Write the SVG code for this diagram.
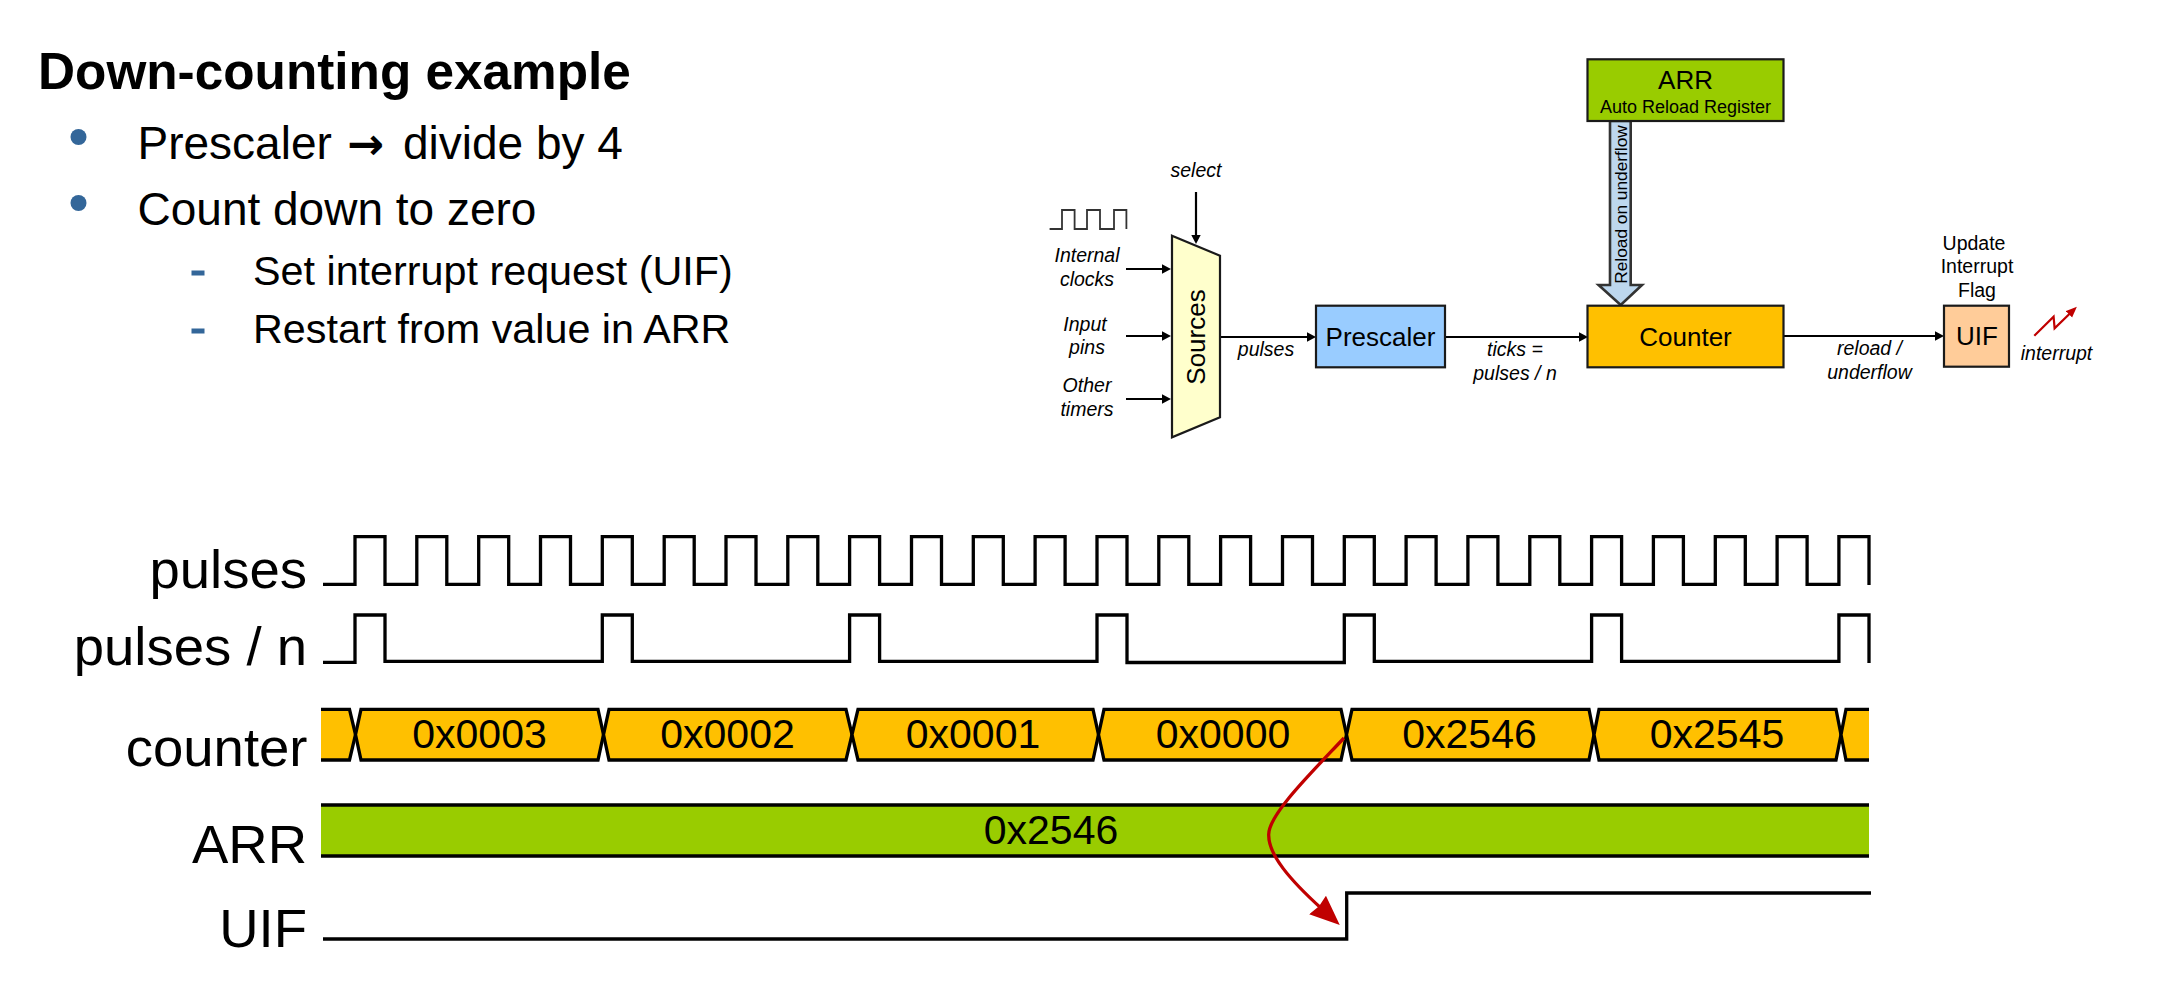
<svg xmlns="http://www.w3.org/2000/svg" width="2158" height="994" viewBox="0 0 2158 994">
<style>
text{font-family:"Liberation Sans",Arial,sans-serif;fill:#000}
.c{text-anchor:middle}
.e{text-anchor:end}
.title{font-size:51.3px;font-weight:bold}
.b1{font-size:46px}
.b2{font-size:41.3px}
.arrow{font-family:"DejaVu Sans",sans-serif;font-size:44px;font-weight:bold}
.sm{font-size:19.5px}
.it{font-size:19.5px;font-style:italic}
.blk{font-size:26px}
.sig{font-size:54.5px}
.val{font-size:41px}
.box{stroke:#1a1a1a;stroke-width:2.2}
.wire{fill:none;stroke:#000;stroke-width:2.2;marker-end:url(#ah)}
.wave{fill:none;stroke:#000;stroke-width:3.3;stroke-linejoin:miter}
.hex{fill:#FFC000;stroke:#000;stroke-width:3.3;stroke-linejoin:miter}
.open{fill:none;stroke:#000;stroke-width:3.3}
.mark{fill:#336699}
</style>
<defs>
<marker id="ah" markerUnits="userSpaceOnUse" markerWidth="10" markerHeight="10" refX="6" refY="5" orient="auto"><path d="M0 0.3L9 5L0 9.7Z" fill="#000"/></marker>
<marker id="rs" markerUnits="userSpaceOnUse" markerWidth="12" markerHeight="10" refX="7" refY="5" orient="auto"><path d="M0 0.5L11 5L0 9.5Z" fill="#C00000"/></marker>
<marker id="rl" markerUnits="userSpaceOnUse" markerWidth="32" markerHeight="28" refX="6" refY="14" orient="auto"><path d="M0 1.5L30 14L0 26.5L2 14Z" fill="#C00000"/></marker>
</defs>
<rect width="2158" height="994" fill="#fff"/>

<g id="heading">
<text class="title" x="38" y="89">Down-counting example</text>
<circle class="mark" cx="78.5" cy="137" r="8"/>
<text class="b1" x="137.5" y="158.5">Prescaler<tspan class="arrow" x="347">→</tspan><tspan x="403">divide by 4</tspan></text>
<circle class="mark" cx="78.5" cy="203" r="8"/>
<text class="b1" x="137.5" y="224.5">Count down to zero</text>
<rect class="mark" x="191.5" y="270.5" width="13" height="5"/>
<text class="b2" x="253" y="284.5">Set interrupt request (UIF)</text>
<rect class="mark" x="191.5" y="328.5" width="13" height="5"/>
<text class="b2" x="253" y="342.5">Restart from value in ARR</text>
</g>

<g id="block-connectors">
<path class="wire" d="M1196 192V241"/>
<path class="wire" d="M1126 269H1168"/>
<path class="wire" d="M1126 336H1168"/>
<path class="wire" d="M1126 399H1168"/>
<path class="wire" d="M1220 337H1313"/>
<path class="wire" d="M1445 337H1585"/>
<path class="wire" d="M1784 336H1941"/>
<path d="M2034.3 335.7L2053.6 316.7L2054.6 328.3L2074 309.5" fill="none" stroke="#C00000" stroke-width="2.2" marker-end="url(#rs)"/>
<path id="reload-arrow" d="M1610 121V285H1598.6L1620.7 305L1642 285H1630.7V121Z" fill="#BDD7EE" stroke="#333" stroke-width="2.6"/>
</g>

<g id="clock-icon"><path d="M1049.6 229H1062V210H1074.6V229H1087V210H1100V229H1114V210H1126.4V229" fill="none" stroke="#333" stroke-width="1.8"/></g>
<g id="label-select"><text class="it c" x="1196" y="177">select</text></g>
<g id="label-internal"><text class="it c" x="1087" y="262">Internal</text><text class="it c" x="1087" y="286">clocks</text></g>
<g id="label-input"><text class="it c" x="1085" y="331">Input</text><text class="it c" x="1087" y="354">pins</text></g>
<g id="label-other"><text class="it c" x="1087" y="392">Other</text><text class="it c" x="1087" y="416">timers</text></g>
<g id="sources">
<path class="box" d="M1172 235.7L1220 255.7V417.3L1172 437.3Z" fill="#FFFFCC"/>
<text class="blk c" transform="translate(1205 337) rotate(-90)">Sources</text>
</g>
<g id="label-pulses"><text class="it c" x="1266" y="356">pulses</text></g>
<g id="prescaler">
<rect class="box" x="1316" y="305.7" width="129" height="61.6" fill="#99CCFF"/>
<text class="blk c" x="1380.5" y="346">Prescaler</text>
</g>
<g id="label-ticks"><text class="it c" x="1515" y="356">ticks =</text><text class="it c" x="1515" y="380">pulses / n</text></g>
<g id="arr">
<rect class="box" x="1587.5" y="59.3" width="196" height="61.7" fill="#99CC00"/>
<text class="blk c" x="1685.5" y="89.3">ARR</text>
<text class="c" font-size="18" x="1685.5" y="112.7">Auto Reload Register</text>
</g>
<g id="label-reload"><text font-size="17.3" class="c" transform="translate(1626.5 204.5) rotate(-90)">Reload on underflow</text></g>
<g id="counter">
<rect class="box" x="1587.5" y="305.7" width="196" height="61.6" fill="#FFC000"/>
<text class="blk c" x="1685.5" y="346">Counter</text>
</g>
<g id="label-underflow"><text class="it c" x="1869.5" y="355">reload /</text><text class="it c" x="1869.5" y="379">underflow</text></g>
<g id="uif">
<rect class="box" x="1944" y="305.7" width="65" height="61" fill="#FFCC99"/>
<text class="blk c" x="1977" y="345">UIF</text>
</g>
<g id="label-flag"><text class="sm c" x="1974" y="250">Update</text><text class="sm c" x="1977" y="273">Interrupt</text><text class="sm c" x="1977" y="297">Flag</text></g>
<g id="label-interrupt"><text class="it c" x="2056.5" y="360">interrupt</text></g>

<g id="sig-pulses">
<text class="sig e" x="307" y="588">pulses</text>
<path class="wave" d="M323 584.3H355V536.7H385V584.3H416.8V536.7H446.8V584.3H478.7V536.7H508.7V584.3H540.5V536.7H570.5V584.3H602.3V536.7H632.3V584.3H664.2V536.7H694.2V584.3H726V536.7H756V584.3H787.8V536.7H817.8V584.3H849.6V536.7H879.6V584.3H911.5V536.7H941.5V584.3H973.3V536.7H1003.3V584.3H1035.1V536.7H1065.1V584.3H1097V536.7H1127V584.3H1158.8V536.7H1188.8V584.3H1220.6V536.7H1250.6V584.3H1282.5V536.7H1312.5V584.3H1344.3V536.7H1374.3V584.3H1406.1V536.7H1436.1V584.3H1467.9V536.7H1497.9V584.3H1529.8V536.7H1559.8V584.3H1591.6V536.7H1621.6V584.3H1653.4V536.7H1683.4V584.3H1715.3V536.7H1745.3V584.3H1777.1V536.7H1807.1V584.3H1838.9V536.7H1869V585"/>
</g>
<g id="sig-pulses-n">
<text class="sig e" x="307" y="665">pulses / n</text>
<path class="wave" d="M323 662.3H355V615H385V661.3H602.3V615H632.3V661.3H849.6V615H879.6V661.3H1097V615H1127V662.5H1344.3V615H1374.3V661.3H1591.6V615H1621.6V661.3H1838.9V615H1869V663"/>
</g>
<g id="sig-counter">
<text class="sig e" x="307.5" y="766">counter</text>
<path fill="#FFC000" d="M321 709.3H349.5L355.5 734.6L349.5 760H321Z"/>
<path class="open" d="M321 709.3H349.5L355.5 734.6L349.5 760H321"/>
<path class="hex" d="M361 709.3H598L603.5 734.6L598 760H361L355.5 734.6Z"/>
<path class="hex" d="M609 709.3H846L852 734.6L846 760H609L603.5 734.6Z"/>
<path class="hex" d="M858 709.3H1093L1098.5 734.6L1093 760H858L852 734.6Z"/>
<path class="hex" d="M1104 709.3H1341L1346.5 734.6L1341 760H1104L1098.5 734.6Z"/>
<path class="hex" d="M1352 709.3H1589L1594 734.6L1589 760H1352L1346.5 734.6Z"/>
<path class="hex" d="M1599 709.3H1836L1841 734.6L1836 760H1599L1594 734.6Z"/>
<path fill="#FFC000" d="M1846 709.3H1869V760H1846L1841 734.6Z"/>
<path class="open" d="M1869 709.3H1846L1841 734.6L1846 760H1869"/>
<text class="val c" x="479.5" y="748">0x0003</text>
<text class="val c" x="727.5" y="748">0x0002</text>
<text class="val c" x="973" y="748">0x0001</text>
<text class="val c" x="1223" y="748">0x0000</text>
<text class="val c" x="1469.5" y="748">0x2546</text>
<text class="val c" x="1717" y="748">0x2545</text>
</g>
<g id="sig-arr">
<text class="sig e" x="307" y="863">ARR</text>
<rect x="321" y="805" width="1548" height="51" fill="#99CC00"/>
<path class="open" d="M321 805H1869M321 856H1869"/>
<text class="val c" x="1051" y="844">0x2546</text>
</g>
<g id="sig-uif">
<text class="sig e" x="307" y="947">UIF</text>
<path class="wave" d="M323 939H1346.7V893H1871"/>
</g>
<g id="timing-connectors">
<path d="M1344 738C1312 772 1268 815 1268.7 835C1268.5 855 1290 880 1322 909" fill="none" stroke="#C00000" stroke-width="3.3" marker-end="url(#rl)"/>
</g>
</svg>
